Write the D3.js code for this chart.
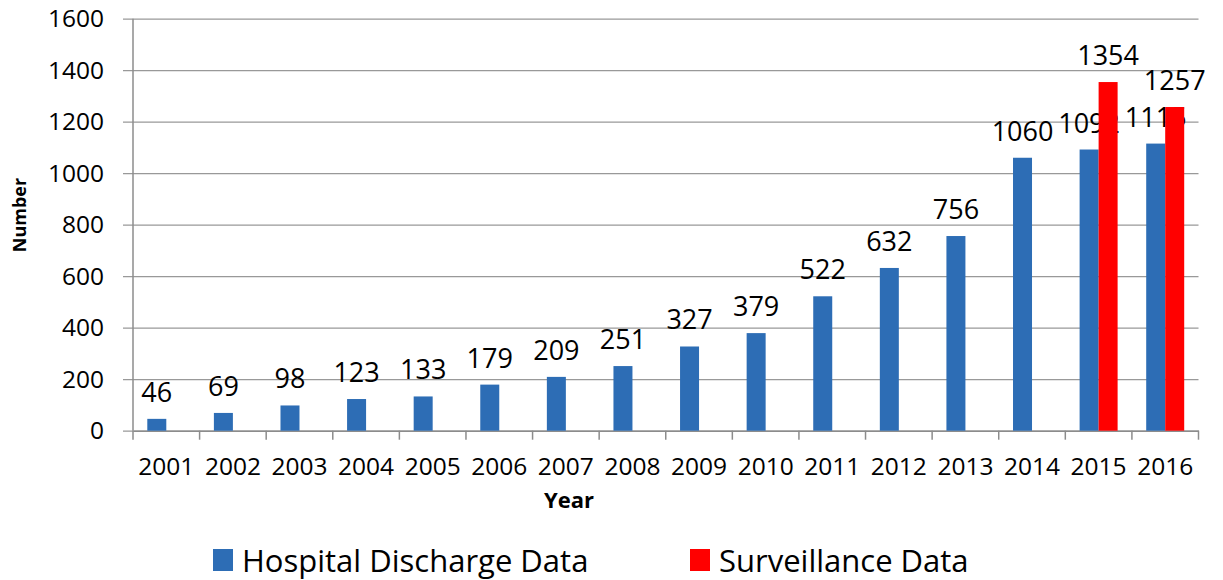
<!DOCTYPE html>
<html>
<head>
<meta charset="utf-8">
<script src="https://cdn.jsdelivr.net/npm/d3@7"></script>
<style>
  body { margin: 0; background: #fff; }
  svg, svg text { font-family: 'Open Sans', sans-serif; }
</style>
</head>
<body>
<div id="chart"></div>
<script>
var years = ['2001','2002','2003','2004','2005','2006','2007','2008','2009','2010','2011','2012','2013','2014','2015','2016'];
var hospital = [46, 69, 98, 123, 133, 179, 209, 251, 327, 379, 522, 632, 756, 1060, 1092, 1115];
var surveillance = [null, null, null, null, null, null, null, null, null, null, null, null, null, null, 1354, 1257];
var y_ticks = [0, 200, 400, 600, 800, 1000, 1200, 1400, 1600];
var series_names = ['Hospital Discharge Data', 'Surveillance Data'];
var colors = ['#2d6db5', '#ff0000'];

var width = 1223, height = 580;
var plot_left = 133, plot_right = 1198.5, plot_top = 18.7, plot_bottom = 430.7;
var bar_w = 19;

var svg = d3.select('#chart').append('svg')
    .attr('width', width)
    .attr('height', height);

var x0 = d3.scaleBand().domain(years).range([plot_left, plot_right]);
var x1 = d3.scaleBand().domain([0, 1])
    .range([x0.bandwidth() / 2 - bar_w, x0.bandwidth() / 2 + bar_w]);
var y = d3.scaleLinear().domain([0, 1600]).range([plot_bottom, plot_top]);

// gridlines + y labels
var y_axis = d3.axisLeft(y)
    .tickValues(y_ticks)
    .tickSize(-(plot_right - plot_left) - 10)
    .tickPadding(19)
    .tickFormat(d3.format('d'));

var gy = svg.append('g')
    .attr('transform', 'translate(' + plot_right + ',0)')
    .call(y_axis);
gy.attr('font-family', null);
gy.select('.domain').remove();
gy.selectAll('.tick line')
    .attr('x1', -(plot_right - plot_left) - 10)
    .attr('x2', 0)
    .attr('stroke', '#999').attr('stroke-width', 1.3);
gy.selectAll('.tick text')
    .attr('x', -(plot_right - plot_left) - 29)
    .attr('font-size', 24.5)
    .attr('fill', '#000');

// y axis line
svg.append('line')
    .attr('x1', plot_left).attr('x2', plot_left)
    .attr('y1', y(1600)).attr('y2', plot_bottom)
    .attr('stroke', '#8c8c8c').attr('stroke-width', 1.5);

// x axis
var x_axis = d3.axisBottom(x0).tickSize(0).tickPadding(27);
var gx = svg.append('g')
    .attr('transform', 'translate(0,' + plot_bottom + ')')
    .call(x_axis);
gx.attr('font-family', null);
gx.select('.domain').attr('stroke', '#8c8c8c').attr('stroke-width', 1.5);
gx.selectAll('.tick text').attr('font-size', 24.5).attr('fill', '#000');

// category separators
svg.append('g').selectAll('line')
    .data(x0.domain().map(function(d) { return x0(d); }).concat([plot_right]))
    .enter().append('line')
    .attr('x1', function(d) { return d; })
    .attr('x2', function(d) { return d; })
    .attr('y1', plot_bottom).attr('y2', plot_bottom + 9)
    .attr('stroke', '#8c8c8c').attr('stroke-width', 1.5);

// bars
var all = [hospital, surveillance];
all.forEach(function(values, s) {
    var rows = values.map(function(v, i) { return {year: years[i], value: v}; })
        .filter(function(d) { return d.value != null; });

    svg.append('g').selectAll('rect')
        .data(rows)
        .enter().append('rect')
        .attr('x', function(d) { return x0(d.year) + x1(s); })
        .attr('y', function(d) { return y(d.value); })
        .attr('width', x1.bandwidth())
        .attr('height', function(d) { return plot_bottom - y(d.value); })
        .attr('fill', colors[s]);

    svg.append('g').selectAll('text')
        .data(rows)
        .enter().append('text')
        .attr('x', function(d) { return x0(d.year) + x1(s) + x1.bandwidth() / 2; })
        .attr('y', function(d) { return y(d.value) - 17; })
        .attr('text-anchor', 'middle')
        .attr('font-size', 27)
        .attr('fill', '#000')
        .text(function(d) { return d.value; });
});

// axis titles
svg.append('text')
    .attr('transform', 'translate(26,215) rotate(-90)')
    .attr('text-anchor', 'middle')
    .attr('font-size', 18)
    .attr('font-weight', 'bold')
    .text('Number');

svg.append('text')
    .attr('x', 569).attr('y', 508)
    .attr('text-anchor', 'middle')
    .attr('font-size', 22)
    .attr('font-weight', 'bold')
    .text('Year');

// legend
var legend_x = [213, 690];
var lg = svg.append('g').selectAll('g')
    .data(series_names)
    .enter().append('g')
    .attr('transform', function(d, i) { return 'translate(' + legend_x[i] + ',549)'; });
lg.append('rect')
    .attr('width', 20).attr('height', 22)
    .attr('fill', function(d, i) { return colors[i]; });
lg.append('text')
    .attr('x', 29).attr('y', 23)
    .attr('font-size', 31)
    .attr('fill', '#000')
    .text(function(d) { return d; });
</script>
</body>
</html>
